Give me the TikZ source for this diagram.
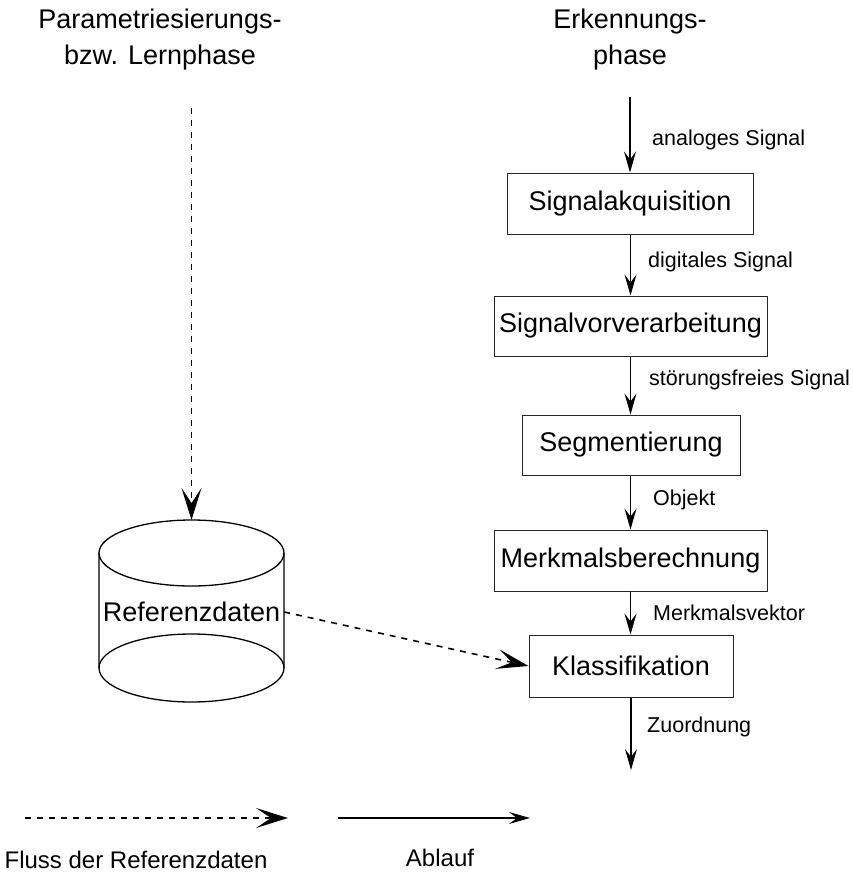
\documentclass[tikz,border=0pt]{standalone}
\usepackage{fontspec}
\setmainfont{Liberation Sans}
\usetikzlibrary{arrows.meta}
\begin{document}
\begin{tikzpicture}[x=1pt,y=-1pt,
  proc/.style={draw=black!85,line width=1pt,minimum height=61pt,inner sep=0pt,font=\fontsize{27}{32}\selectfont},
  lbl/.style={anchor=west,inner sep=0pt,font=\fontsize{21.5}{26}\selectfont},
  title/.style={inner sep=0pt,font=\fontsize{27}{32}\selectfont},
  flow/.style={line width=1.1pt,-{Stealth[length=21pt,width=12pt,inset=8pt]}},
  refflow/.style={line width=1.6pt,dash pattern=on 6pt off 6pt,-{Stealth[length=32pt,width=20pt,inset=15pt]}},
  cyl/.style={line width=1.3pt}
]
\useasboundingbox (0,0) rectangle (853,872);

% titles
\node[title] (tl1) at (160,22) {Parametriesierungs-};
\node[title] (tl2) at (160,58) {bzw. Lernphase};
\node[title] (tr1) at (630,22) {Erkennungs-};
\node[title] (tr2) at (630,58) {phase};

% process boxes
\node[proc,minimum width=246pt] (s1) at (630,203.5) {Signalakquisition};
\node[proc,minimum width=273pt,minimum height=60pt] (s2) at (630.5,326) {Signalvorverarbeitung};
\node[proc,minimum width=218pt,minimum height=60pt] (s3) at (631,445) {Segmentierung};
\node[proc,minimum width=273pt] (s4) at (630.5,560.5) {Merkmalsberechnung};
\node[proc,minimum width=204pt,minimum height=62pt] (s5) at (631,666) {Klassifikation};

\coordinate (in) at (630,97);
\coordinate (out) at (631,770);

\draw[flow] (in) -- (in |- s1.north);
\draw[flow] (s1.south -| 630.5,0) -- (s2.north -| 630.5,0);
\draw[flow] (s2.south -| 630.5,0) -- (s3.north -| 630.5,0);
\draw[flow] (s3.south -| 630.5,0) -- (s4.north -| 630.5,0);
\draw[flow] (s4.south -| 630.5,0) -- (s5.north -| 630.5,0);
\draw[flow] (s5.south) -- (out);

% labels
\node[lbl] (l1) at (652,140) {analoges Signal};
\node[lbl] (l2) at (648,262) {digitales Signal};
\node[lbl] (l3) at (649,380) {störungsfreies Signal};
\node[lbl] (l4) at (653,500) {Objekt};
\node[lbl] (l5) at (653,613) {Merkmalsvektor};
\node[lbl] (l6) at (647,727) {Zuordnung};

% cylinder
\draw[cyl,fill=white] (99,553) -- (99,668) arc[start angle=180,end angle=360,x radius=92.5pt,y radius=34pt] -- (284,553);
\draw[cyl] (99,668) arc[start angle=180,end angle=0,x radius=92.5pt,y radius=34pt];
\draw[cyl] (191.5,553) ellipse[x radius=92.5pt,y radius=33pt];
\node[inner sep=0pt,minimum width=185pt,font=\fontsize{27}{32}\selectfont] (ref) at (191.5,612) {Referenzdaten};
\coordinate (cyltop) at (191.5,520);
\coordinate (lstart) at (191.5,108);

\draw[refflow] (lstart) -- (cyltop);
\draw[refflow] (ref.east) -- (s5.west);

% legend
\coordinate (d1) at (25,818);
\coordinate (d2) at (288,818);
\coordinate (a1) at (338,818);
\coordinate (a2) at (530,818);
\draw[refflow] (d1) -- (d2);
\draw[flow] (a1) -- (a2);
\node[title,font=\fontsize{24}{28}\selectfont] (lg1) at (136,860) {Fluss der Referenzdaten};
\node[title,font=\fontsize{24}{28}\selectfont] (lg2) at (440,858) {Ablauf};
\end{tikzpicture}
\end{document}
